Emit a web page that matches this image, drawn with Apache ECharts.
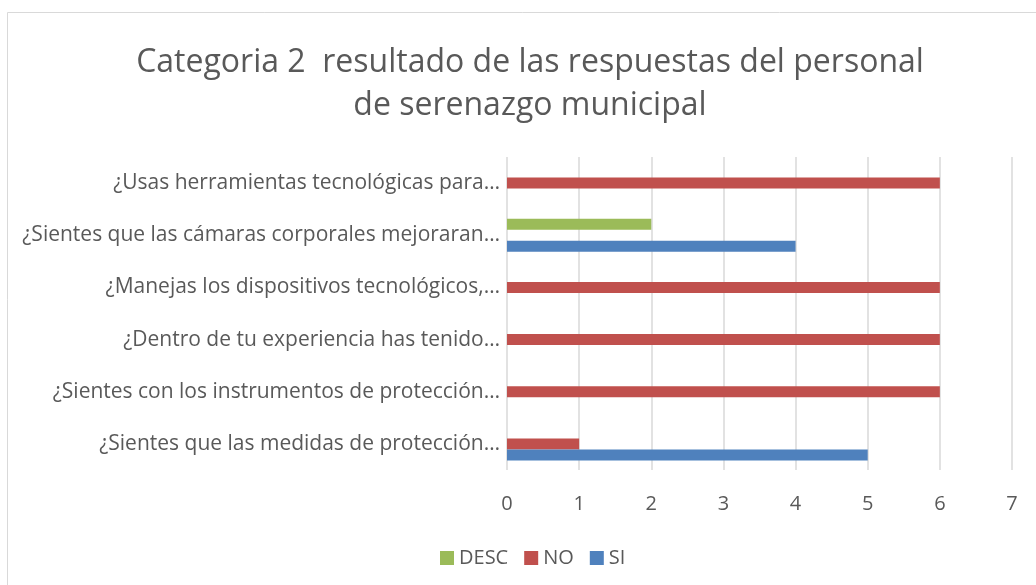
<!DOCTYPE html>
<html>
<head>
<meta charset="utf-8">
<style>
  html, body { margin: 0; padding: 0; background: #fff; }
  #chart { width: 1036px; height: 585px; }
</style>
<script src="https://cdn.jsdelivr.net/npm/echarts@6/dist/echarts.min.js"></script>
</head>
<body>
<div id="chart"></div>
<script>
// categories, bottom to top (as the category axis counts them)
const categories = [
  '¿Sientes que las medidas de protección…',
  '¿Sientes con los instrumentos de protección…',
  '¿Dentro de tu experiencia has tenido…',
  '¿Manejas los dispositivos tecnológicos,…',
  '¿Sientes que las cámaras corporales mejoraran…',
  '¿Usas herramientas tecnológicas para…'
]
const descValues = [0, 0, 0, 0, 2, 0]
const noValues = [1, 6, 6, 6, 0, 6]
const siValues = [5, 0, 0, 0, 4, 0]
const xTicks = [0, 1, 2, 3, 4, 5, 6, 7]

const textColor = '#595959'
const fontFamily = '"Open Sans", "Noto Sans", sans-serif'

const chart = echarts.init(document.getElementById('chart'))

const barSeries = (name, data, color) => ({
  name,
  type: 'bar',
  data,
  barWidth: 11,
  barGap: '0%',
  itemStyle: { color },
  emphasis: { disabled: true }
})

const option = {
  backgroundColor: '#fff',
  animation: false,
  textStyle: { fontFamily },
  graphic: [
    {
      type: 'rect',
      shape: { x: 7.5, y: 12.5, width: 1100, height: 700 },
      style: { fill: 'none', stroke: '#d9d9d9', lineWidth: 1 },
      silent: true
    }
  ],
  title: {
    text: 'Categoria 2  resultado de las respuestas del personal\nde serenazgo municipal',
    left: 525,
    textAlign: 'center',
    top: 36,
    textStyle: {
      color: textColor,
      fontSize: 32,
      fontWeight: 'normal',
      lineHeight: 43,
      fontFamily
    }
  },
  legend: {
    data: ['DESC', 'NO', 'SI'],
    left: 435,
    top: 543,
    itemWidth: 14,
    itemHeight: 14,
    itemGap: 16,
    icon: 'rect',
    selectedMode: false,
    textStyle: { color: textColor, fontSize: 20, fontFamily, padding: [0, 0, 0, 0] }
  },
  grid: {
    left: 507,
    right: 24,
    top: 157,
    bottom: 115,
    containLabel: false
  },
  xAxis: {
    type: 'value',
    min: xTicks[0],
    max: xTicks[xTicks.length - 1],
    interval: 1,
    axisLine: { show: false },
    axisTick: { show: false },
    axisLabel: { color: textColor, fontSize: 20, margin: 24, fontFamily },
    splitLine: { lineStyle: { color: '#d9d9d9', width: 1.5 } }
  },
  yAxis: {
    type: 'category',
    data: categories,
    axisLine: { show: false },
    axisTick: { show: false },
    axisLabel: { color: textColor, fontSize: 21, margin: 7, fontFamily },
    splitLine: { show: false }
  },
  series: [
    barSeries('DESC', descValues, '#9bbb59'),
    barSeries('NO', noValues, '#c0504d'),
    barSeries('SI', siValues, '#4f81bd')
  ]
}

chart.setOption(option)
</script>
</body>
</html>
